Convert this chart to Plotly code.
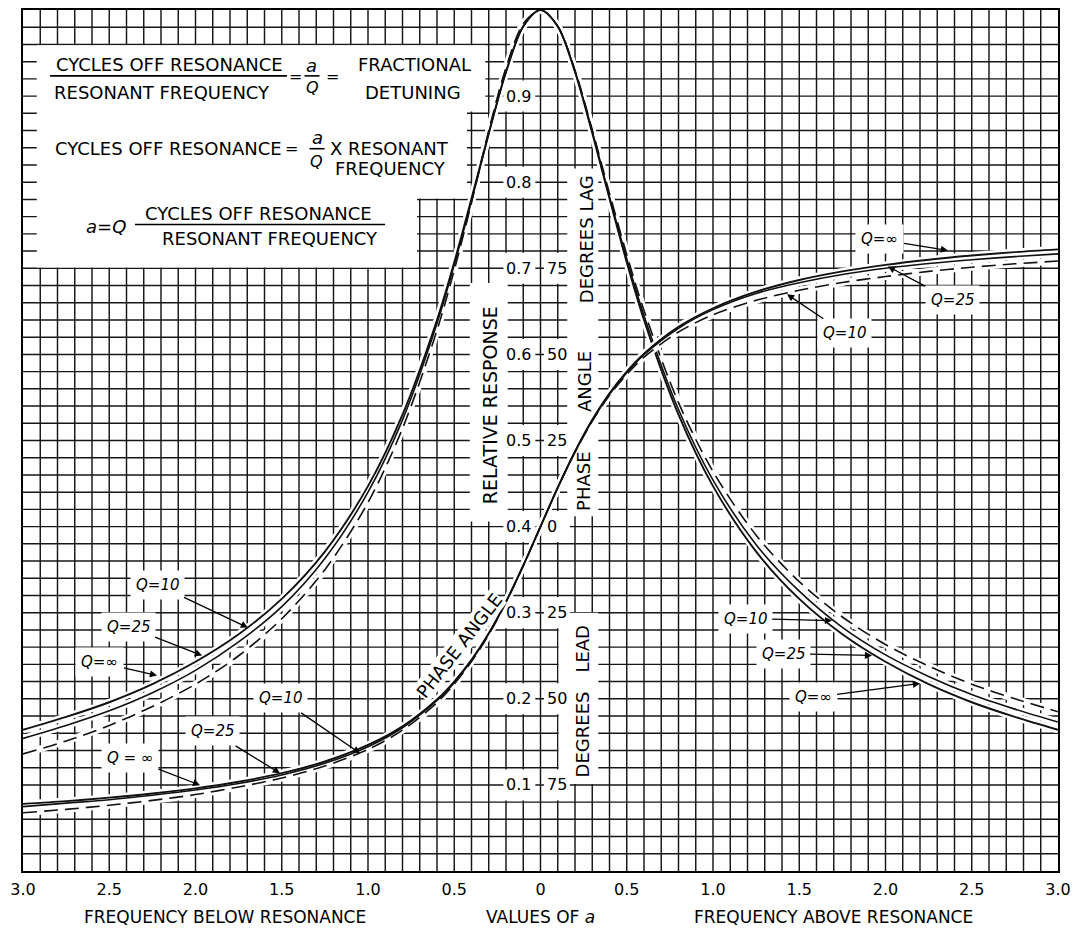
import numpy as np
import plotly.graph_objects as go

# ---------------- data ----------------
# a = Q * (cycles off resonance) / (resonant frequency); negative = below resonance
a_vals = [-3.0, -2.75, -2.5, -2.25, -2.0, -1.75, -1.5, -1.25, -1.0, -0.8, -0.6, -0.5,
          -0.4, -0.3, -0.2, -0.1, 0.0, 0.1, 0.2, 0.3, 0.4, 0.5, 0.6, 0.8, 1.0, 1.25,
          1.5, 1.75, 2.0, 2.25, 2.5, 2.75, 3.0]

# relative response
resp_q_inf = [0.164, 0.179, 0.196, 0.217, 0.243, 0.275, 0.316, 0.371, 0.447, 0.530, 0.640, 0.707,
              0.781, 0.857, 0.928, 0.981, 1.000, 0.981, 0.928, 0.857, 0.781, 0.707, 0.640, 0.530,
              0.447, 0.371, 0.316, 0.275, 0.243, 0.217, 0.196, 0.179, 0.164]
resp_q25 = [0.154, 0.169, 0.186, 0.207, 0.233, 0.266, 0.307, 0.363, 0.440, 0.524, 0.636, 0.704,
            0.778, 0.856, 0.928, 0.981, 1.000, 0.981, 0.929, 0.859, 0.783, 0.711, 0.645, 0.536,
            0.454, 0.379, 0.325, 0.283, 0.251, 0.226, 0.205, 0.188, 0.173]
resp_q10 = [0.136, 0.151, 0.169, 0.191, 0.217, 0.250, 0.293, 0.350, 0.428, 0.514, 0.628, 0.698,
            0.776, 0.860, 0.933, 0.984, 1.000, 0.981, 0.930, 0.861, 0.787, 0.716, 0.651, 0.544,
            0.464, 0.390, 0.336, 0.295, 0.263, 0.238, 0.217, 0.200, 0.185]

# phase angle in degrees (+ = lag, - = lead)
phase_q_inf = [-80.5, -79.7, -78.7, -77.5, -76.0, -74.1, -71.6, -68.2, -63.4, -58.0, -50.2, -45.0,
               -38.7, -31.0, -21.8, -11.3, 0.0, 11.3, 21.8, 31.0, 38.7, 45.0, 50.2, 58.0,
               63.4, 68.2, 71.6, 74.1, 76.0, 77.5, 78.7, 79.7, 80.5]
phase_q25 = [-81.3, -80.3, -79.3, -78.0, -76.5, -74.6, -72.1, -68.7, -63.9, -58.4, -50.5, -45.3,
             -38.9, -31.1, -21.9, -11.3, 0.0, 11.3, 21.7, 30.8, 38.4, 44.7, 49.9, 57.6,
             63.0, 67.7, 70.8, 73.2, 75.0, 76.4, 77.5, 78.4, 79.2]
phase_q10 = [-83.1, -82.1, -80.9, -79.5, -77.8, -75.6, -73.0, -69.5, -64.7, -59.1, -51.1, -45.7,
             -39.2, -31.4, -22.0, -11.4, 0.0, 11.3, 21.6, 30.6, 38.1, 44.2, 49.2, 56.5,
             61.5, 65.7, 68.6, 70.9, 72.6, 74.1, 75.3, 76.3, 77.1]

x_tick_vals = [-3.0, -2.5, -2.0, -1.5, -1.0, -0.5, 0.0, 0.5, 1.0, 1.5, 2.0, 2.5, 3.0]
x_tick_labels = ["3.0", "2.5", "2.0", "1.5", "1.0", "0.5", "0", "0.5", "1.0", "1.5", "2.0", "2.5", "3.0"]
resp_tick_vals = [0.9, 0.8, 0.7, 0.6, 0.5, 0.4, 0.3, 0.2, 0.1]
resp_tick_labels = ["0.9", "0.8", "0.7", "0.6", "0.5", "0.4", "0.3", "0.2", "0.1"]
deg_tick_vals = [75, 50, 25, 0, -25, -50, -75]
deg_tick_labels = ["75", "50", "25", "0", "25", "50", "75"]

FONT = "DejaVu Sans"
INK = "#111111"

fig = go.Figure()

# ---------------- graph-paper grid ----------------
gx, gy = [], []
for xv in np.round(np.arange(-2.9, 2.95, 0.1), 2):
    gx += [xv, xv, None]
    gy += [0, 1, None]
for yv in np.round(np.arange(0.02, 0.99, 0.02), 2):
    gx += [-3, 3, None]
    gy += [yv, yv, None]
fig.add_trace(go.Scatter(x=gx, y=gy, mode="lines", line=dict(color="#161616", width=1.45),
                         hoverinfo="skip", showlegend=False))

# ---------------- white panels (blank areas of the paper) ----------------
def add_white(xs, ys):
    fig.add_trace(go.Scatter(x=xs, y=ys, mode="lines", fill="toself", fillcolor="white",
                             line=dict(color="white", width=0), hoverinfo="skip",
                             showlegend=False))

def add_box(x0, x1, y0, y1):
    add_white([x0, x1, x1, x0, x0], [y0, y0, y1, y1, y0])

# formula panel (stepped right edge)
add_white([-2.92, -0.32, -0.32, -0.426, -0.426, -0.716, -0.716, -2.92, -2.92],
          [0.959, 0.959, 0.882, 0.882, 0.781, 0.781, 0.701, 0.701, 0.959])
# boxes behind the central scale labels
for v in resp_tick_vals:
    add_box(-0.215, -0.03, v - 0.018, v + 0.018)
for v in resp_tick_vals[2:]:
    add_box(0.02, 0.17, v - 0.018, v + 0.018)
# strip for "RELATIVE RESPONSE"
add_box(-0.41, -0.19, 0.406, 0.683)
# strips for phase-angle captions
add_box(0.155, 0.335, 0.412, 0.816)
add_box(0.105, 0.335, 0.101, 0.300)

# ---------------- curves ----------------
series = [
    (resp_q_inf, "y", "solid", 1.9),
    (resp_q25, "y", "solid", 1.6),
    (resp_q10, "y", "14px,7px", 1.6),
    (phase_q_inf, "y2", "solid", 1.9),
    (phase_q25, "y2", "solid", 1.6),
    (phase_q10, "y2", "14px,7px", 1.6),
]
for vals, ax, dash, w in series:
    fig.add_trace(go.Scatter(x=a_vals, y=vals, yaxis=ax, mode="lines",
                             line=dict(color="white", width=7, shape="spline", smoothing=0.9),
                             hoverinfo="skip", showlegend=False))
for vals, ax, dash, w in series:
    fig.add_trace(go.Scatter(x=a_vals, y=vals, yaxis=ax, mode="lines",
                             line=dict(color=INK, width=w, dash=dash, shape="spline", smoothing=0.9),
                             hoverinfo="skip", showlegend=False))

# ---------------- layout ----------------
# the page body has an 8px default margin, so the figure is sized/margined to compensate
fig.update_layout(
    width=1074, height=921,
    margin=dict(l=15, r=24, t=0, b=58),
    paper_bgcolor="white", plot_bgcolor="white",
    showlegend=False,
    font=dict(family=FONT, color="black", size=16),
    xaxis=dict(range=[-3, 3], tickmode="array", tickvals=x_tick_vals, ticktext=x_tick_labels,
               showgrid=False, zeroline=False, showline=True, mirror=True,
               linecolor="black", linewidth=2, ticks="", ticklabelstandoff=3,
               tickfont=dict(family=FONT, size=16, color="black")),
    yaxis=dict(range=[0, 1], showgrid=False, zeroline=False, showline=True, mirror=True,
               linecolor="black", linewidth=2, ticks="", showticklabels=False),
    yaxis2=dict(range=[-100, 150], overlaying="y", visible=False),
)

ann = []

def txt(x, y, s, size=18, angle=0, xanchor="center", yref="y", italic=False, bg=None, pad=1):
    d = dict(x=x, y=y, xref="x", yref=yref, text=s, showarrow=False, textangle=angle,
             xanchor=xanchor, yanchor="middle",
             font=dict(family=FONT, size=size, color="black",
                       style="italic" if italic else "normal"))
    if bg:
        d.update(bgcolor=bg, borderpad=pad)
    ann.append(d)

# central scales
for v, lab in zip(resp_tick_vals, resp_tick_labels):
    txt(-0.045, v, lab, size=16, xanchor="right")
for v, lab in zip(deg_tick_vals, deg_tick_labels):
    txt(0.028, v, lab, size=16, xanchor="left", yref="y2")

txt(-0.293, 0.541, "RELATIVE RESPONSE", size=19, angle=-90)
txt(0.268, 0.7335, "DEGREES LAG", size=18, angle=-90)
txt(0.252, 0.569, "ANGLE", size=18, angle=-90)
txt(0.252, 0.453, "PHASE", size=18, angle=-90)
txt(0.241, 0.2584, "LEAD", size=18, angle=-90)
txt(0.241, 0.1587, "DEGREES", size=18, angle=-90)
txt(-0.47, 0.262, "PHASE ANGLE", size=18, angle=-52, bg="white", pad=0)

# formula panel text
txt(-2.148, 0.9363, "CYCLES OFF RESONANCE")
txt(-2.197, 0.9039, "RESONANT FREQUENCY")
txt(-1.423, 0.9224, "=", size=16)
txt(-1.325, 0.936, "<i>a</i>", size=18)
txt(-1.319, 0.9095, "<i>Q</i>", size=16)
txt(-1.203, 0.9224, "=", size=16)
txt(-0.728, 0.9363, "FRACTIONAL")
txt(-0.742, 0.9039, "DETUNING")

txt(-2.157, 0.8389, "CYCLES OFF RESONANCE")
txt(-1.441, 0.8389, "=", size=16)
txt(-1.292, 0.8515, "<i>a</i>", size=18)
txt(-1.296, 0.8235, "<i>Q</i>", size=16)
txt(-0.878, 0.8389, "X RESONANT")
txt(-0.536, 0.8157, "FREQUENCY", xanchor="right")

txt(-2.519, 0.7486, "<i>a</i>=<i>Q</i>", size=18)
txt(-1.632, 0.7636, "CYCLES OFF RESONANCE")
txt(-0.930, 0.7346, "RESONANT FREQUENCY", xanchor="right")

for x0, x1, yv in [(-2.843, -1.470, 0.9235), (-1.368, -1.281, 0.9235),
                   (-1.339, -1.252, 0.8389), (-2.351, -0.901, 0.7509)]:
    fig.add_shape(type="line", x0=x0, x1=x1, y0=yv, y1=yv, xref="x", yref="y",
                  line=dict(color="black", width=1.6))

# bottom captions
for xv, s in [(-1.829, "FREQUENCY BELOW RESONANCE"), (0.0, "VALUES OF <i>a</i>"),
              (1.70, "FREQUENCY ABOVE RESONANCE")]:
    ann.append(dict(x=xv, y=-0.0533, xref="x", yref="paper", text=s, showarrow=False,
                    xanchor="center", yanchor="middle",
                    font=dict(family=FONT, size=17, color="black")))

# Q labels with arrows: (text x, text y, head x, head y, label)
q_labels = [
    (-2.223, 0.3326, -1.696, 0.2827, "Q=10"),
    (-2.391, 0.2839, -1.962, 0.2503, "Q=25"),
    (-2.554, 0.2422, -2.223, 0.2271, "Q=∞"),
    (-1.510, 0.2005, -1.046, 0.1367, "Q=10"),
    (-1.904, 0.1622, -1.510, 0.1136, "Q=25"),
    (-2.380, 0.1309, -1.974, 0.0997, "Q = ∞"),
    (1.186, 0.2932, 1.690, 0.2908, "Q=10"),
    (1.406, 0.2526, 1.922, 0.2503, "Q=25"),
    (1.580, 0.2016, 2.200, 0.2178, "Q=∞"),
    (1.968, 0.7335, 2.362, 0.7207, "Q=∞"),
    (2.386, 0.6628, 2.014, 0.7022, "Q=25"),
    (1.765, 0.6246, 1.429, 0.6698, "Q=10"),
]
for tx, ty, hx, hy, lab in q_labels:
    ann.append(dict(x=hx, y=hy, xref="x", yref="y", ax=tx, ay=ty, axref="x", ayref="y",
                    text=lab, showarrow=True, arrowhead=2, arrowsize=1.1, arrowwidth=1.3,
                    arrowcolor="black", standoff=0, bgcolor="white", borderpad=5,
                    font=dict(family=FONT, size=15, color="black", style="italic")))

fig.update_layout(annotations=ann)
fig.write_html("out.html")
